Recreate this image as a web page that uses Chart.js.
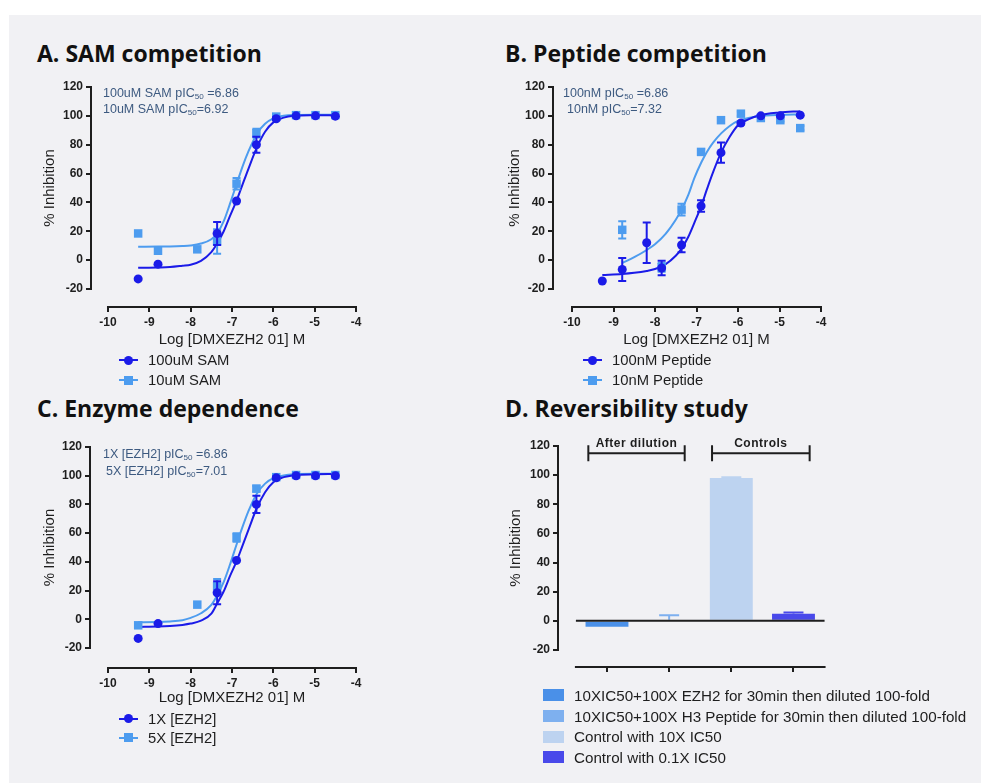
<!DOCTYPE html>
<html>
<head>
<meta charset="utf-8">
<script src="https://cdn.jsdelivr.net/npm/chart.js@4.4.1/dist/chart.umd.min.js"></script>
<style>
  html, body { margin: 0; padding: 0; background: #fff; }
  body { width: 981px; height: 783px; position: relative; overflow: hidden;
         font-family: "Liberation Sans", Arial, sans-serif; }
  #sheet { position: absolute; left: 9px; top: 15px; right: 0; bottom: 0; background: #f1f1f4; }
  canvas { position: absolute; }
  .title { position: absolute; font-family: "Open Sans", sans-serif; font-weight: 700;
           font-size: 23px; line-height: 23px; color: #111; white-space: nowrap; }
  .note { position: absolute; font-size: 12.5px; line-height: 16px; color: #3d5a80; white-space: nowrap; }
  .note sub { font-size: 65%; vertical-align: -0.3em; line-height: 0; }
  .leg { position: absolute; font-size: 14.8px; color: #1e1e1e; white-space: nowrap; }
  #legD { font-size: 15.2px; }
  .row { display: flex; align-items: center; height: 20px; }
  .mk { position: relative; width: 19px; height: 20px; flex: none; }
  .mk .ln { position: absolute; left: 0; top: 9px; width: 19px; height: 2px; }
  .mk .pt { position: absolute; left: 5px; top: 5.5px; width: 9px; height: 9px; }
  .sw { width: 21px; height: 12px; flex: none; margin-right: 10px; }
</style>
</head>
<body>
<div id="sheet"></div>

<canvas id="chartA" width="345" height="280" style="left:30px;top:75px"></canvas>
<canvas id="chartB" width="345" height="280" style="left:495px;top:75px"></canvas>
<canvas id="chartC" width="345" height="280" style="left:30px;top:435px"></canvas>
<canvas id="chartD" width="345" height="260" style="left:500px;top:430px"></canvas>

<div class="title" style="left:37px;top:42px">A. SAM competition</div>
<div class="title" style="left:505px;top:42px">B. Peptide competition</div>
<div class="title" style="left:37px;top:397px">C. Enzyme dependence</div>
<div class="title" style="left:505px;top:397px">D. Reversibility study</div>

<div class="note" style="left:103px;top:85px">100uM SAM pIC<sub>50</sub> =6.86</div>
<div class="note" style="left:103px;top:101px">10uM SAM pIC<sub>50</sub>=6.92</div>
<div class="note" style="left:563px;top:85px">100nM pIC<sub>50</sub> =6.86</div>
<div class="note" style="left:567px;top:101px">10nM pIC<sub>50</sub>=7.32</div>
<div class="note" style="left:103px;top:446px">1X [EZH2] pIC<sub>50</sub> =6.86</div>
<div class="note" style="left:106px;top:463px">5X [EZH2] pIC<sub>50</sub>=7.01</div>

<div id="legA" class="leg" style="left:119px;top:350px"></div>
<div id="legB" class="leg" style="left:583px;top:350px"></div>
<div id="legC" class="leg" style="left:119px;top:709px"></div>
<div id="legD" class="leg" style="left:543px;top:685px"></div>

<script>
// x positions (log M) of the 3-fold dilution series
const doses = [-9.27, -8.79, -8.32, -7.84, -7.36, -6.89, -6.41, -5.93, -5.45, -4.98, -4.5];
const pepDoses = [-9.27, -8.79, -8.2, -7.84, -7.36, -6.89, -6.41, -5.93, -5.45, -4.98, -4.5];
// x positions where the fitted curves were read
const fitX = [-9.27, -8.79, -8.5, -8.2, -8, -7.75, -7.5, -7.36, -7.2, -7.05, -6.88, -6.75, -6.6, -6.4, -6.2, -6, -5.75, -5.5, -5, -4.5];

const yTicks = [-20, 0, 20, 40, 60, 80, 100, 120];
const xTicks = [-10, -9, -8, -7, -6, -5, -4];

// A. SAM competition
const samNames = ['100uM SAM', '10uM SAM'];
const sam100 = [-13, -2.8, null, null, 18.5, 41, 80, 98, 100, 100, 99.8];
const sam100Sd = [0, 0, 0, 0, 8, 0, 5.5, 1, 0, 0, 0];
const sam10 = [18.5, 6.5, null, 7.5, 13, 53, 88, 99.5, 100.5, 100.5, 100.5];
const sam10Sd = [0, 0, 0, 0, 8.5, 4, 3, 0, 0, 0, 0];
const sam100Fit = [-5.3, -5.1, -4.8, -3.9, -3.2, -0.5, 5.5, 11.5, 20, 30.5, 42, 52, 63.5, 78, 89, 95.5, 98.8, 100, 100.4, 100.5];
const sam10Fit = [9.3, 9.4, 9.5, 9.8, 10.2, 11.5, 14.5, 18.5, 27, 39, 53.5, 64.5, 75.5, 87.5, 94.5, 98.3, 100, 100.6, 100.8, 100.8];

// B. Peptide competition
const pepNames = ['100nM Peptide', '10nM Peptide'];
const pep100 = [-14.5, -6.5, 12, -5.5, 10.5, 37.5, 74.5, 95, 100, 100, 100.5];
const pep100Sd = [0, 8, 14, 5, 5, 4, 7, 1, 0, 0, 0];
const pep10 = [null, 21, null, -5, 35, 75, 97, 101.5, 98.5, 97, 91.5];
const pep10Sd = [0, 6, 0, 3, 4, 2, 0, 1.5, 0, 1, 1.5];
const pep100Fit = [-10.3, -9.6, -8.8, -7.5, -6.2, -3, 3, 8, 16, 26, 38, 49, 61, 75, 85.5, 93.5, 97.5, 100.2, 102.3, 103.2];
const pep10Fit = [null, -2, 2, 7, 11, 18, 28, 35, 45, 57, 68, 75, 81.5, 88, 93, 96.5, 98.5, 99.8, 100.7, 101];

// C. Enzyme dependence
const ezhNames = ['1X [EZH2]', '5X [EZH2]'];
const ezh1 = [-13.3, -3, null, null, 18.5, 41, 80, 98.5, 100, 100, 100];
const ezh1Sd = [0, 0, 0, 0, 8, 0, 6, 1, 0, 0, 0];
const ezh5 = [-4.2, null, null, 10.2, 23, 57, 91, 99, 100.5, 100.5, 100.5];
const ezh5Sd = [0, 0, 0, 0, 5, 3, 2, 0, 0, 0, 0];
const ezh1Fit = [-5.3, -5.1, -4.7, -3.9, -3, -1, 4, 11, 19.5, 30, 41, 51, 62.5, 77.5, 88.5, 95.5, 99, 100.4, 101, 101.2];
const ezh5Fit = [-2, -1.9, -1.5, -0.6, 1, 4.2, 10, 16.5, 26, 38, 53, 64, 75.5, 87.5, 94.5, 98.3, 100.2, 101, 101.3, 101.3];

// D. Reversibility study
const revNames = [
  '10XIC50+100X EZH2 for 30min then diluted 100-fold',
  '10XIC50+100X H3 Peptide for 30min then diluted 100-fold',
  'Control with 10X IC50',
  'Control with 0.1X IC50'
];
const revPos = [0, 1, 2, 3];
const revValues = [-4, 0.8, 98, 4.8];
const revSd = [0, 3, 0.5, 0.9];
const groupNames = ['After dilution', 'Controls'];
const groupFrom = [-0.3, 1.69];
const groupTo = [1.25, 3.26];
const groupLevel = 115;

const INK = '#1e1e1e';
const DARK = '#1b1be8';
const LIGHT = '#4d9cef';
const revColors = ['#4a90e8', '#7eb0ef', '#bdd3f0', '#4949ea'];
const FONT = '"Liberation Sans", Arial, sans-serif';

// Prism-like detached axes + axis titles
const prismAxes = {
  id: 'prismAxes',
  afterDraw(chart, args, o) {
    const { ctx, chartArea: ca, scales: { x, y } } = chart;
    const x0 = x.getPixelForValue(o.xFrom), x1 = x.getPixelForValue(o.xTo);
    const y0 = y.getPixelForValue(o.yFrom), y1 = y.getPixelForValue(o.yTo);
    ctx.save();
    ctx.strokeStyle = INK;
    ctx.lineWidth = 2;
    ctx.beginPath();
    ctx.moveTo(ca.left, y0 + 1);
    ctx.lineTo(ca.left, y1 - 1);
    ctx.moveTo(x0 - 1, ca.bottom);
    ctx.lineTo(x1 + 1, ca.bottom);
    if (o.zeroLine) {
      const yz = y.getPixelForValue(0);
      ctx.moveTo(x0, yz);
      ctx.lineTo(x1, yz);
    }
    ctx.stroke();
    ctx.fillStyle = INK;
    ctx.font = '15px ' + FONT;
    ctx.textAlign = 'center';
    ctx.textBaseline = 'middle';
    if (o.xTitle) ctx.fillText(o.xTitle, (x0 + x1) / 2, ca.bottom + o.xTitleGap);
    ctx.translate(ca.left + o.yTitleGap, (y0 + y1) / 2);
    ctx.rotate(-Math.PI / 2);
    ctx.fillText(o.yTitle, 0, 0);
    ctx.restore();
  }
};

// mean +/- SD whiskers, stored as "e" on each point
const errorBars = {
  id: 'errorBars',
  afterDatasetDraw(chart, { index, meta }) {
    const ds = chart.data.datasets[index];
    if (!ds.data.some(p => p.e)) return;
    const { ctx } = chart;
    const y = chart.scales.y;
    const half = ds.capHalf || 4;
    ctx.save();
    ctx.lineWidth = 2;
    meta.data.forEach((el, i) => {
      const p = ds.data[i];
      if (!p.e) return;
      const c = Array.isArray(ds.borderColor) ? ds.borderColor[i] : ds.borderColor;
      const top = y.getPixelForValue(p.y + p.e);
      const bot = ds.upOnly ? y.getPixelForValue(p.y) : y.getPixelForValue(p.y - p.e);
      ctx.strokeStyle = c;
      ctx.beginPath();
      ctx.moveTo(el.x, top); ctx.lineTo(el.x, bot);
      ctx.moveTo(el.x - half, top); ctx.lineTo(el.x + half, top);
      if (!ds.upOnly) { ctx.moveTo(el.x - half, bot); ctx.lineTo(el.x + half, bot); }
      ctx.stroke();
    });
    ctx.restore();
  }
};

// group brackets above the bars in D
const groupBrackets = {
  id: 'groupBrackets',
  afterDraw(chart) {
    const { ctx, scales: { x, y } } = chart;
    const yy = y.getPixelForValue(groupLevel);
    ctx.save();
    ctx.strokeStyle = INK;
    ctx.fillStyle = INK;
    ctx.lineWidth = 2;
    ctx.font = 'bold 12px ' + FONT;
    ctx.letterSpacing = '0.5px';
    ctx.textAlign = 'center';
    ctx.textBaseline = 'middle';
    groupNames.forEach((name, i) => {
      const a = x.getPixelForValue(groupFrom[i]), b = x.getPixelForValue(groupTo[i]);
      ctx.beginPath();
      ctx.moveTo(a, yy); ctx.lineTo(b, yy);
      ctx.moveTo(a, yy - 8); ctx.lineTo(a, yy + 8);
      ctx.moveTo(b, yy - 8); ctx.lineTo(b, yy + 8);
      ctx.stroke();
      ctx.fillText(name, (a + b) / 2, yy - 10);
    });
    ctx.restore();
  }
};

function tickFont() {
  return { family: FONT, size: 12, weight: 'bold' };
}

function makeScales(xMin, xMax, xT, yMin, yW, xH, showX) {
  return {
    x: {
      type: 'linear', min: xMin, max: xMax, offset: false,
      afterBuildTicks: s => { s.ticks = xT.map(v => ({ value: v })); },
      afterFit: s => { s.height = xH; },
      grid: { offset: false, drawOnChartArea: false, tickLength: 5, lineWidth: 2, color: INK },
      border: { display: false },
      ticks: { display: showX, font: tickFont(), color: INK, padding: 3, maxRotation: 0, autoSkip: false }
    },
    y: {
      type: 'linear', min: yMin, max: 120,
      afterBuildTicks: s => { s.ticks = yTicks.map(v => ({ value: v })); },
      afterFit: s => { s.width = yW; },
      grid: { drawOnChartArea: false, tickLength: 5, lineWidth: 2, color: INK },
      border: { display: false },
      ticks: { font: tickFont(), color: INK, padding: 3 }
    }
  };
}

function pointSet(label, xs, ys, sd, color, style, order) {
  return {
    label, order, showLine: false, pointStyle: style,
    pointRadius: style === 'circle' ? 4.5 : 6, pointBorderWidth: 0,
    backgroundColor: color, borderColor: color,
    data: xs.map((x, i) => ({ x, y: ys[i], e: sd[i] })).filter(p => p.y !== null)
  };
}

function fitSet(label, ys, color, order) {
  return {
    label, order, showLine: true, pointRadius: 0, borderWidth: 2,
    borderColor: color, backgroundColor: color, cubicInterpolationMode: 'monotone',
    data: fitX.map((x, i) => ({ x, y: ys[i] })).filter(p => p.y !== null)
  };
}

function curveChart(id, datasets, pad, xMin, yMin, yW, yTitleGap, xTitleGap) {
  return new Chart(document.getElementById(id), {
    type: 'scatter',
    data: { datasets },
    plugins: [errorBars, prismAxes],
    options: {
      responsive: false, animation: false, events: [], devicePixelRatio: 1,
      layout: { padding: pad, autoPadding: false },
      scales: makeScales(xMin, -4, xTicks, yMin, yW, 22, true),
      plugins: {
        legend: { display: false }, tooltip: { enabled: false },
        prismAxes: { xFrom: -10, xTo: -4, yFrom: -20, yTo: 120, yTitle: '% Inhibition',
                     xTitle: 'Log [DMXEZH2 01] M', yTitleGap, xTitleGap }
      }
    }
  });
}

curveChart('chartA', [
  pointSet(samNames[0], doses, sam100, sam100Sd, DARK, 'circle', 0),
  pointSet(samNames[1], doses, sam10, sam10Sd, LIGHT, 'rect', 1),
  fitSet(samNames[0], sam100Fit, DARK, 2),
  fitSet(samNames[1], sam10Fit, LIGHT, 3)
], { top: 12, left: 0, right: 19, bottom: 26 }, -10.411, -32.47, 61, -41, 33);

curveChart('chartB', [
  pointSet(pepNames[0], pepDoses, pep100, pep100Sd, DARK, 'circle', 0),
  pointSet(pepNames[1], pepDoses, pep10, pep10Sd, LIGHT, 'rect', 1),
  fitSet(pepNames[0], pep100Fit, DARK, 2),
  fitSet(pepNames[1], pep10Fit, LIGHT, 3)
], { top: 12, left: 0, right: 19, bottom: 26 }, -10.458, -32.5, 58, -38, 33);

curveChart('chartC', [
  pointSet(ezhNames[0], doses, ezh1, ezh1Sd, DARK, 'circle', 0),
  pointSet(ezhNames[1], doses, ezh5, ezh5Sd, LIGHT, 'rect', 1),
  fitSet(ezhNames[0], ezh1Fit, DARK, 2),
  fitSet(ezhNames[1], ezh5Fit, LIGHT, 3)
], { top: 12, left: 0, right: 19, bottom: 25 }, -10.436, -33.93, 60, -40, 30);

new Chart(document.getElementById('chartD'), {
  type: 'bar',
  data: {
    datasets: [{
      label: 'Reversibility',
      data: revPos.map((x, i) => ({ x, y: revValues[i], e: revSd[i] })),
      backgroundColor: revColors, borderColor: revColors, borderWidth: 0,
      barPercentage: 0.69, categoryPercentage: 1, upOnly: true, capHalf: 10
    }]
  },
  plugins: [errorBars, prismAxes, groupBrackets],
  options: {
    responsive: false, animation: false, events: [], devicePixelRatio: 1,
    layout: { padding: { top: 16, left: 0, right: 20, bottom: 7 }, autoPadding: false },
    scales: makeScales(-0.788, 3.507, revPos, -31.67, 58, 16, false),
    plugins: {
      legend: { display: false }, tooltip: { enabled: false },
      prismAxes: { xFrom: -0.5, xTo: 3.5, yFrom: -20, yTo: 120, yTitle: '% Inhibition',
                   yTitleGap: -42, zeroLine: true }
    }
  }
});

// legends
function curveLegend(id, names, gap) {
  const box = document.getElementById(id);
  [[DARK, '50%'], [LIGHT, '0']].forEach(([c, r], i) => {
    const row = document.createElement('div');
    row.className = 'row';
    row.style.height = gap + 'px';
    row.innerHTML = `<span class="mk"><i class="ln" style="background:${c}"></i>` +
      `<i class="pt" style="background:${c};border-radius:${r}"></i></span>` +
      `<span style="margin-left:10px">${names[i]}</span>`;
    box.appendChild(row);
  });
}
curveLegend('legA', samNames, 20);
curveLegend('legB', pepNames, 20);
curveLegend('legC', ezhNames, 19);

const legD = document.getElementById('legD');
revNames.forEach((name, i) => {
  const row = document.createElement('div');
  row.className = 'row';
  row.style.height = '20.7px';
  row.innerHTML = `<span class="sw" style="background:${revColors[i]}"></span><span>${name}</span>`;
  legD.appendChild(row);
});
</script>
</body>
</html>
